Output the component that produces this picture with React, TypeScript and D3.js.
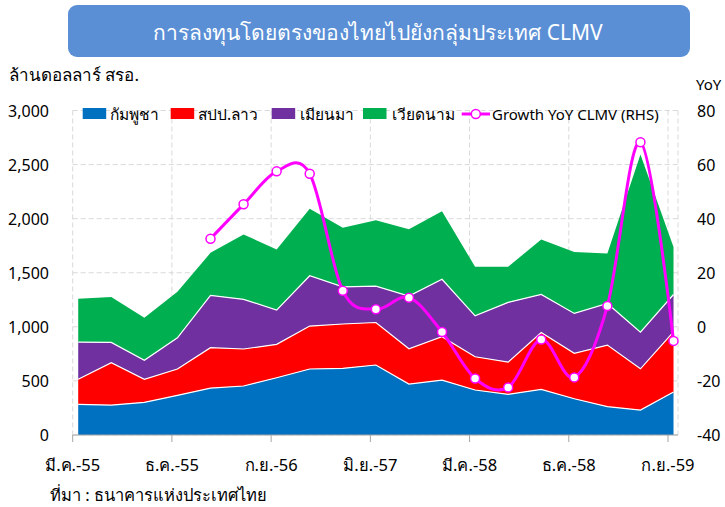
import React from "react";
import * as d3 from "d3";

// Quarterly categories (Mar-55 .. Sep-59)
const quarters = [
  "มี.ค.-55", "มิ.ย.-55", "ก.ย.-55", "ธ.ค.-55",
  "มี.ค.-56", "มิ.ย.-56", "ก.ย.-56", "ธ.ค.-56",
  "มี.ค.-57", "มิ.ย.-57", "ก.ย.-57", "ธ.ค.-57",
  "มี.ค.-58", "มิ.ย.-58", "ก.ย.-58", "ธ.ค.-58",
  "มี.ค.-59", "มิ.ย.-59", "ก.ย.-59",
];

const cambodia = [283, 277, 302, 367, 434, 453, 529, 610, 616, 647, 471, 508, 416, 376, 421, 335, 262, 231, 397];
const laos = [232, 391, 213, 243, 373, 342, 309, 397, 410, 393, 326, 400, 307, 298, 527, 420, 569, 381, 557];
const myanmar = [344, 188, 175, 289, 484, 459, 317, 465, 344, 336, 487, 532, 379, 552, 351, 369, 385, 339, 345];
const vietnam = [400, 419, 394, 425, 393, 600, 561, 619, 545, 610, 619, 629, 453, 329, 509, 567, 462, 1643, 440];
const growth: (number | null)[] = [null, null, null, null, 32.6, 45.3, 57.5, 56.6, 13.3, 6.5, 10.8, -1.9, -19.1, -22.4, -4.7, -18.7, 7.7, 68.3, -5.2];

const seriesNames = ["กัมพูชา", "สปป.ลาว", "เมียนมา", "เวียดนาม"];
const lineName = "Growth YoY CLMV (RHS)";
const leftTicks = [0, 500, 1000, 1500, 2000, 2500, 3000];
const rightTicks = [-40, -20, 0, 20, 40, 60, 80];
const xTickEvery = 3;

const title = "การลงทุนโดยตรงของไทยไปยังกลุ่มประเทศ CLMV";
const leftUnit = "ล้านดอลลาร์ สรอ.";
const rightUnit = "YoY";
const source = "ที่มา : ธนาคารแห่งประเทศไทย";

const colors = ["#0070C0", "#FF0000", "#7030A0", "#00B050"];
const lineColor = "#FF00FF";
const FONT = "Tahoma, 'Noto Sans', 'DejaVu Sans', sans-serif";

export default function App() {
  const W = 725, H = 507;
  const plotLeft = 72.7, plotRight = 678, yTop = 110.5, yBottom = 435;

  // x in months from first quarter; data placed mid-month, ticks at month start
  const x = d3.scaleLinear().domain([0, 54]).range([plotLeft, 668]);
  const xData = (i: number) => x(i * 3 + 0.5);
  const yL = d3.scaleLinear().domain([0, 3000]).range([yBottom, yTop]);
  const yR = d3.scaleLinear().domain([-40, 80]).range([yBottom, yTop]);

  const table = quarters.map((q, i) => ({
    i,
    s0: cambodia[i],
    s1: laos[i],
    s2: myanmar[i],
    s3: vietnam[i],
  }));
  const stack = d3.stack<any>().keys(["s0", "s1", "s2", "s3"]);
  const layers = stack(table);

  const area = d3
    .area<any>()
    .x((d) => xData(d.data.i))
    .y0((d) => yL(d[0]))
    .y1((d) => yL(d[1]));
  const topLine = d3
    .line<any>()
    .x((d) => xData(d.data.i))
    .y((d) => yL(d[1]));

  const growthPts = growth
    .map((v, i) => ({ v, i }))
    .filter((d) => d.v !== null) as { v: number; i: number }[];
  const gLine = d3
    .line<{ v: number; i: number }>()
    .x((d) => xData(d.i))
    .y((d) => yR(d.v))
    .curve(d3.curveCardinal.tension(0));

  const tickIdx = quarters.map((_, i) => i).filter((i) => i % xTickEvery === 0);

  // legend layout
  const legendY = 114;
  const legendItems = [
    { sx: 82.7, tx: 110 },
    { sx: 170.7, tx: 198 },
    { sx: 271.7, tx: 300 },
    { sx: 363, tx: 391.5 },
  ];

  return (
    <svg
      width={W}
      height={H}
      style={{ position: "absolute", left: 0, top: 0, background: "#fff" }}
      fontFamily={FONT}
    >
      <rect x={0} y={0} width={W} height={H} fill="#fff" />
      {/* Title */}
      <rect x={68} y={5} width={622} height={52} rx={9} fill="#5A8FD6" />
      <text x={378} y={40} textAnchor="middle" fill="#fff" fontSize={21}>
        {title}
      </text>

      {/* units */}
      <text x={9} y={81} fontSize={17} fill="#000">{leftUnit}</text>
      <text x={696} y={90} fontSize={15} fill="#000">{rightUnit}</text>

      {/* gridlines */}
      {leftTicks.map((t) => (
        <line key={"hg" + t} x1={plotLeft} x2={plotRight} y1={yL(t)} y2={yL(t)} stroke="#D9D9D9" strokeDasharray="5,3" />
      ))}
      {tickIdx.map((i) => (
        <line key={"vg" + i} x1={x(i * 3)} x2={x(i * 3)} y1={yTop} y2={yBottom} stroke="#D9D9D9" strokeDasharray="5,3" />
      ))}
      <line x1={plotRight} x2={plotRight} y1={yTop} y2={yBottom} stroke="#D9D9D9" strokeDasharray="5,3" />

      {/* stacked areas */}
      {layers.map((layer, k) => (
        <path key={"a" + k} d={area(layer) || ""} fill={colors[k]} />
      ))}
      {layers.slice(0, 3).map((layer, k) => (
        <path key={"l" + k} d={topLine(layer) || ""} fill="none" stroke="#fff" strokeWidth={1.2} />
      ))}

      {/* x axis */}
      <line x1={plotLeft} x2={plotRight} y1={yBottom} y2={yBottom} stroke="#A6A6A6" strokeWidth={1.2} />
      {tickIdx.map((i) => (
        <g key={"xt" + i}>
          <line x1={x(i * 3)} x2={x(i * 3)} y1={yBottom} y2={yBottom + 7} stroke="#A6A6A6" />
          <text x={x(i * 3)} y={471} textAnchor="middle" fontSize={16.5} fill="#000">
            {quarters[i]}
          </text>
        </g>
      ))}

      {/* left axis labels */}
      {leftTicks.map((t) => (
        <text key={"yl" + t} x={49} y={yL(t) + 6} textAnchor="end" fontSize={16} fill="#000">
          {d3.format(",")(t)}
        </text>
      ))}
      {/* right axis labels */}
      {rightTicks.map((t) => (
        <text key={"yr" + t} x={697} y={yR(t) + 6} textAnchor="start" fontSize={16} fill="#000">
          {t}
        </text>
      ))}

      {/* growth line */}
      <path d={gLine(growthPts) || ""} fill="none" stroke={lineColor} strokeWidth={3} />
      {growthPts.map((d) => (
        <circle key={"m" + d.i} cx={xData(d.i)} cy={yR(d.v)} r={4.5} fill="#fff" stroke={lineColor} strokeWidth={1.5} />
      ))}

      {/* legend */}
      {legendItems.map((it, k) => (
        <g key={"lg" + k}>
          <rect x={it.sx} y={legendY - 6} width={23.5} height={11} fill={colors[k]} />
          <text x={it.tx} y={legendY + 6} fontSize={15.5} fill="#000">{seriesNames[k]}</text>
        </g>
      ))}
      <line x1={461.7} x2={490} y1={legendY} y2={legendY} stroke={lineColor} strokeWidth={3} />
      <circle cx={475.8} cy={legendY} r={4.5} fill="#fff" stroke={lineColor} strokeWidth={1.5} />
      <text x={492} y={legendY + 6} fontSize={15} fill="#000">{lineName}</text>

      {/* source */}
      <text x={50} y={501} fontSize={16.5} fill="#000">{source}</text>
    </svg>
  );
}
